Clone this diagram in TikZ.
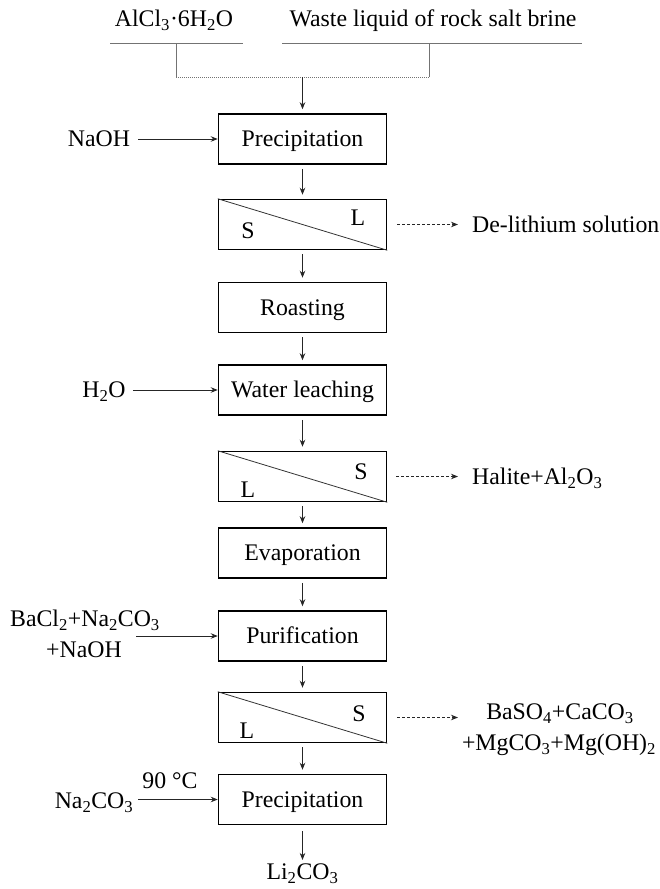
\documentclass[tikz,border=0pt]{standalone}
\usepackage{fontspec}
\setmainfont{Liberation Serif}
\usetikzlibrary{arrows.meta}
\newcommand\sbs[1]{\textsubscript{#1}}
\begin{document}
\begin{tikzpicture}[x=1pt,y=-1pt,
  font=\fontsize{23.8}{31}\selectfont,
  every node/.style={inner sep=0pt},
  txt/.style={text height=15.7pt, text depth=0pt},
  box/.style={draw=black, line width=1.5pt, minimum width=168pt, minimum height=50pt, text height=15.7pt, text depth=0pt},
  arr/.style={draw=black!85, line width=0.8pt, -{Stealth[length=7pt,width=5.5pt]}},
  flow/.style={arr, shorten <=4pt, shorten >=4pt},
  dasharr/.style={arr, dash pattern=on 3pt off 2pt},
  feed/.style={draw=black!55, line width=0.7pt},
  diag/.style={draw=black!80, line width=0.8pt}
]
\useasboundingbox (0,0) rectangle (659,889);

% top feeds
\node[txt] (al) at (174,19) {AlCl\sbs{3}·6H\sbs{2}O};
\node[txt] (wl) at (433,19) {Waste liquid of rock salt brine};
\coordinate (alL) at (110,43);
\coordinate (alR) at (243,43);
\coordinate (wlL) at (282,43);
\coordinate (wlR) at (582,43);
\coordinate (alD) at (176,43);
\coordinate (wlD) at (429,43);
\coordinate (jl) at (176,77);
\coordinate (jr) at (429,77);
\coordinate (jm) at (302.5,77);
\draw[feed] (alL) -- (alR);
\draw[feed] (wlL) -- (wlR);
\draw[feed] (alD) -- (jl);
\draw[feed] (wlD) -- (jr);
\draw[feed, dash pattern=on 1pt off 1pt] (jl) -- (jr);

% main column
\node[box] (p1) at (302.5,139) {Precipitation};
\node[box] (s1) at (302.5,224.5) {};
\node[box] (p2) at (302.5,307.5) {Roasting};
\node[box] (p3) at (302.5,390) {Water leaching};
\node[box] (s2) at (302.5,476.5) {};
\node[box] (p4) at (302.5,553) {Evaporation};
\node[box] (p5) at (302.5,636) {Purification};
\node[box] (s3) at (302.5,717.5) {};
\node[box] (p6) at (302.5,799.5) {Precipitation};
\node[txt] (li) at (302.5,872) {Li\sbs{2}CO\sbs{3}};

% separator diagonals and labels
\draw[diag] (s1.north west) -- (s1.south east);
\draw[diag] (s2.north west) -- (s2.south east);
\draw[diag] (s3.north west) -- (s3.south east);
\node[txt] (s1a) at (248,231) {S};
\node[txt] (s1b) at (358,218) {L};
\node[txt] (s2a) at (248,490) {L};
\node[txt] (s2b) at (361,472) {S};
\node[txt] (s3a) at (247,731) {L};
\node[txt] (s3b) at (359,714) {S};

% vertical flow
\draw[arr, shorten >=4pt] (jm) -- (p1.north);
\draw[flow] (p1) -- (s1);
\draw[flow] (s1) -- (p2);
\draw[flow] (p2) -- (p3);
\draw[flow] (p3) -- (s2);
\draw[flow] (s2) -- (p4);
\draw[flow] (p4) -- (p5);
\draw[flow] (p5) -- (s3);
\draw[flow] (s3) -- (p6);
\draw[arr, shorten <=6pt, shorten >=4pt] (p6.south) -- (li.north);

% left inputs
\node[txt] (naoh) at (99,139) {NaOH};
\node[txt] (h2o) at (104,390) {H\sbs{2}O};
\node[txt] (ba1) at (85,619) {BaCl\sbs{2}+Na\sbs{2}CO\sbs{3}};
\node[txt] (ba2) at (84,650) {+NaOH};
\node[txt] (na) at (94,801) {Na\sbs{2}CO\sbs{3}};
\node[txt] (t90) at (170,781) {90 °C};
\coordinate (baE) at (136,636);
\draw[arr] ([xshift=8pt]naoh.east |- p1.west) -- (p1.west);
\draw[arr] ([xshift=7pt]h2o.east |- p3.west) -- (p3.west);
\draw[arr] (baE) -- (p5.west);
\draw[arr] ([xshift=5pt]na.east |- p6.west) -- (p6.west);

% right outputs
\node[txt, anchor=west] (o1) at (472,224.5) {De-lithium solution};
\node[txt, anchor=west] (o2) at (472,476.5) {Halite+Al\sbs{2}O\sbs{3}};
\node[txt] (o3a) at (560,712) {BaSO\sbs{4}+CaCO\sbs{3}};
\node[txt] (o3b) at (559,743) {+MgCO\sbs{3}+Mg(OH)\sbs{2}};
\coordinate (o3E) at (458,717.5);
\draw[dasharr] ([xshift=10pt]s1.east) -- ([xshift=-14pt]o1.west);
\draw[dasharr] ([xshift=9pt]s2.east) -- ([xshift=-14pt]o2.west);
\draw[dasharr] ([xshift=10pt]s3.east) -- (o3E);
\end{tikzpicture}
\end{document}
